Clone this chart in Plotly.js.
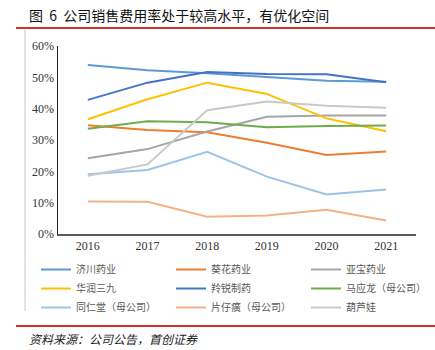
<!DOCTYPE html>
<html><head><meta charset="utf-8">
<script src="https://cdn.plot.ly/plotly-3.0.1.min.js"></script>
<style>html,body{margin:0;padding:0;background:#fff}#c{width:435px;height:350px}</style>
</head><body><div id="c"></div>
<script>
const years = ['2016','2017','2018','2019','2020','2021'];
const names = ['济川药业','葵花药业','亚宝药业','华润三九','羚锐制药','马应龙（母公司）','同仁堂（母公司）','片仔癀（母公司）','葫芦娃'];
const jichuan = [53.9, 52.3, 51.3, 50.0, 48.9, 48.6];
const kuihua  = [34.7, 33.2, 32.5, 29.1, 25.2, 26.3];
const yabao   = [24.2, 27.1, 32.7, 37.4, 37.8, 37.8];
const huarun  = [36.6, 43.0, 48.3, 44.7, 36.9, 32.8];
const lingrui = [42.8, 48.3, 51.7, 51.1, 51.0, 48.4];
const mayinglong = [33.6, 36.0, 35.7, 34.1, 34.5, 34.6];
const tongrentang = [19.1, 20.4, 26.2, 18.3, 12.6, 14.2];
const pianzaihuang = [10.4, 10.3, 5.5, 5.9, 7.7, 4.3];
const huluwa = [18.6, 22.2, 39.5, 42.3, 40.9, 40.3];
const series = [jichuan, kuihua, yabao, huarun, lingrui, mayinglong, tongrentang, pianzaihuang, huluwa];
const colors = ['#5B9BD5','#ED7D31','#A5A5A5','#FFC000','#4472C4','#70AD47','#9DC3E6','#F4B183','#C9C9C9'];

const traces = series.map((s,i)=>({
  x: years, y: s, type:'scatter', mode:'lines', name: names[i],
  line:{color: colors[i], width:2}
}));

// pixel helpers
const L=58, R=416, T=46, B=234;
const px = x => (x-L)/(R-L);
const py = y => (B-y)/(B-T);

const layout = {
  width:435, height:350,
  margin:{l:L, r:435-R, t:T, b:350-B, autoexpand:false},
  paper_bgcolor:'#fff', plot_bgcolor:'#fff',
  font:{family:'"Liberation Serif", "Noto Sans CJK SC"', color:'#333'},
  showlegend:true,
  xaxis:{type:'category', range:[-0.5,5.5], showline:true, linecolor:'#595959', linewidth:1.5, ticks:'', showgrid:false, zeroline:false,
         tickfont:{family:'"Liberation Serif"', size:12, color:'#333'}},
  yaxis:{range:[0,60], dtick:10, ticksuffix:'%', showline:true, linecolor:'#222', linewidth:1.5, ticks:'', showgrid:false, zeroline:false,
         tickfont:{family:'"Liberation Serif"', size:12, color:'#333'}},
  legend:{orientation:'h', x:px(36), xanchor:'left', y:py(255), yanchor:'top',
          entrywidth:90, entrywidthmode:'pixels', tracegroupgap:0,
          font:{family:'"Noto Sans CJK SC"', size:10, color:'#595959'}, itemwidth:30},
  shapes:[
    {type:'line', xref:'paper', yref:'paper', x0:px(16), x1:px(435), y0:py(28), y1:py(28), line:{color:'#D0312D', width:2}},
    {type:'line', xref:'paper', yref:'paper', x0:px(25), x1:px(25), y0:py(30), y1:py(311), line:{color:'#C8C8C8', width:1}},
    {type:'line', xref:'paper', yref:'paper', x0:px(16), x1:px(435), y0:py(326), y1:py(326), line:{color:'#D0312D', width:2}}
  ],
  annotations:[
    {text:'图\u00A0\u00A06\u00A0\u00A0公司销售费用率处于较高水平，有优化空间', xref:'paper', yref:'paper', x:px(27), y:py(15), xanchor:'left', yanchor:'middle', showarrow:false,
     font:{family:'"Noto Sans CJK SC"', size:14, color:'#111'}},
    {text:'<i>资料来源：公司公告，首创证券</i>', xref:'paper', yref:'paper', x:px(27), y:py(338), xanchor:'left', yanchor:'middle', showarrow:false,
     font:{family:'"Noto Sans CJK SC"', size:12, color:'#222'}}
  ]
};
Plotly.newPlot('c', traces, layout, {displayModeBar:false, staticPlot:true});
</script></body></html>
